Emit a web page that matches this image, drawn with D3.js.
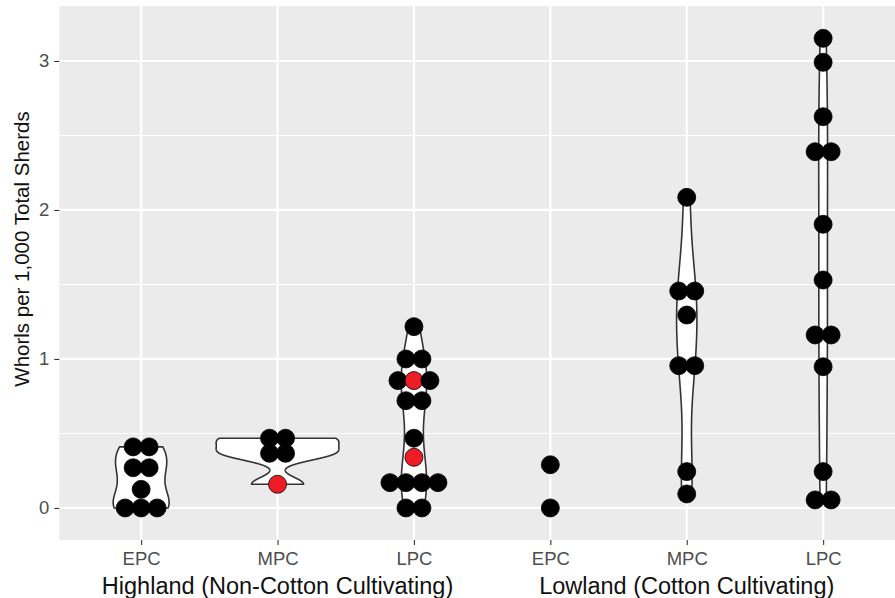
<!DOCTYPE html>
<html>
<head>
<meta charset="utf-8">
<script src="https://cdn.jsdelivr.net/npm/d3@7"></script>
<style>
  body { margin: 0; background: #fff; }
  text { font-family: "Liberation Sans", Arial, sans-serif; }
</style>
</head>
<body>
<div id="chart-area"></div>
<script>
// data (dot positions = binned values)
const regions = ["Highland (Non-Cotton Cultivating)", "Lowland (Cotton Cultivating)"];
const periods = ["EPC", "MPC", "LPC"];

const highlandEPC = [0.41, 0.41, 0.27, 0.27, 0.125, 0, 0, 0];
const highlandMPC = [0.468, 0.468, 0.367, 0.367];
const highlandLPC = [1.217, 1.0, 1.0, 0.855, 0.855, 0.72, 0.72, 0.468, 0.17, 0.17, 0.17, 0.17, 0, 0];
const lowlandEPC = [0.29, 0];
const lowlandMPC = [2.085, 1.456, 1.456, 1.295, 0.955, 0.955, 0.244, 0.094];
const lowlandLPC = [3.152, 2.991, 2.626, 2.391, 2.391, 1.904, 1.53, 1.161, 1.161, 0.948, 0.244, 0.054, 0.054];

// highlighted (red) sites
const highlandMPCRed = [0.159];
const highlandLPCRed = [0.855, 0.34];

const yTicks = [0, 1, 2, 3];
const yMinor = [0.5, 1.5, 2.5];

const groups = [
  { region: 0, period: "EPC", black: highlandEPC, red: [] },
  { region: 0, period: "MPC", black: highlandMPC, red: highlandMPCRed },
  { region: 0, period: "LPC", black: highlandLPC, red: highlandLPCRed },
  { region: 1, period: "EPC", black: lowlandEPC, red: [] },
  { region: 1, period: "MPC", black: lowlandMPC, red: [] },
  { region: 1, period: "LPC", black: lowlandLPC, red: [] }
];
groups.forEach(g => { g.key = g.region + "-" + g.period; g.all = g.black.concat(g.red); });

// layout
const canvas = { width: 895, height: 598 };
const panel = { left: 59.3, top: 6, bottom: 540 };
const step = 136.4;
const dotR = 9, dotStep = 16;

const svg = d3.select("#chart-area").append("svg")
  .attr("width", canvas.width).attr("height", canvas.height);

const x = d3.scalePoint().domain(groups.map(g => g.key))
  .range([panel.left, panel.left + 6.2 * step]).padding(0.6);
const y = d3.scaleLinear().domain([-0.215, 3.369]).range([panel.bottom, panel.top]);

// panel + grid
svg.append("rect").attr("x", panel.left).attr("y", panel.top)
  .attr("width", canvas.width - panel.left).attr("height", panel.bottom - panel.top)
  .attr("fill", "#ebebeb");

svg.selectAll(".minor").data(yMinor).enter().append("line")
  .attr("x1", panel.left).attr("x2", canvas.width)
  .attr("y1", d => y(d)).attr("y2", d => y(d))
  .attr("stroke", "#fff").attr("stroke-width", 1.1);
svg.selectAll(".major").data(yTicks).enter().append("line")
  .attr("x1", panel.left).attr("x2", canvas.width)
  .attr("y1", d => y(d)).attr("y2", d => y(d))
  .attr("stroke", "#fff").attr("stroke-width", 2.2);
svg.selectAll(".vgrid").data(groups).enter().append("line")
  .attr("x1", d => x(d.key)).attr("x2", d => x(d.key))
  .attr("y1", panel.top).attr("y2", panel.bottom)
  .attr("stroke", "#fff").attr("stroke-width", 2.2);

// violins: gaussian kde, bw.nrd0, trimmed, scale = "area"
function bwNrd0(v) {
  const s = v.slice().sort(d3.ascending);
  const hi = d3.deviation(s);
  const iqr = d3.quantileSorted(s, 0.75) - d3.quantileSorted(s, 0.25);
  let lo = Math.min(hi, iqr / 1.34);
  if (!lo) lo = hi || Math.abs(s[0]) || 1;
  return 0.9 * lo * Math.pow(s.length, -0.2);
}
function kde(v) {
  const bw = bwNrd0(v), lo = d3.min(v), hi = d3.max(v), n = 512;
  return d3.range(n).map(i => {
    const t = lo + (hi - lo) * i / (n - 1);
    const dens = d3.sum(v, d => Math.exp(-0.5 * ((t - d) / bw) ** 2)) / (v.length * bw * Math.sqrt(2 * Math.PI));
    return { v: t, d: dens };
  });
}
const violinGroups = groups.filter(g => g.all.length >= 3);
violinGroups.forEach(g => g.dens = kde(g.all));
const maxDens = d3.max(violinGroups, g => d3.max(g.dens, d => d.d));
const w = d3.scaleLinear().domain([0, maxDens]).range([0, 0.45 * step]);

svg.selectAll(".violin").data(violinGroups).enter().append("path")
  .attr("d", g => d3.area()
    .y(d => y(d.v))
    .x0(d => x(g.key) - w(d.d))
    .x1(d => x(g.key) + w(d.d))(g.dens))
  .attr("fill", "#fff").attr("stroke", "#333").attr("stroke-width", 1.6);

// dots: stacked, centered
const dots = [];
groups.forEach(g => {
  const rows = d3.groups(g.black.map(v => ({ v, red: false })).concat(g.red.map(v => ({ v, red: true }))), d => d.v);
  rows.forEach(([v, pts]) => {
    const blacks = pts.filter(p => !p.red), reds = pts.filter(p => p.red);
    const row = blacks.slice();
    row.splice(Math.floor(blacks.length / 2), 0, ...reds);
    row.forEach((p, i) => dots.push({ key: g.key, v, red: p.red, off: (i - (row.length - 1) / 2) * dotStep }));
  });
});
svg.selectAll(".dot").data(dots).enter().append("circle")
  .attr("cx", d => x(d.key) + d.off).attr("cy", d => y(d.v)).attr("r", dotR)
  .attr("fill", d => d.red ? "#ee1c25" : "#000").attr("stroke", "#000").attr("stroke-width", 0.8);

// axes
const yAxis = svg.append("g").attr("transform", "translate(" + panel.left + ",0)")
  .call(d3.axisLeft(y).tickValues(yTicks).tickSize(5).tickPadding(5).tickFormat(d3.format("d")));
const xAxis = svg.append("g").attr("transform", "translate(0," + panel.bottom + ")")
  .call(d3.axisBottom(x).tickSize(5).tickPadding(7).tickFormat(k => groups.find(g => g.key === k).period));
[xAxis, yAxis].forEach(a => {
  a.select(".domain").remove();
  a.selectAll(".tick line").attr("stroke", "#333").attr("stroke-width", 1.1);
  a.selectAll(".tick text").attr("fill", "#4d4d4d").attr("font-size", 18.5)
    .attr("font-family", "Liberation Sans, Arial, sans-serif");
});

// titles
svg.selectAll(".region").data(regions).enter().append("text")
  .attr("x", (d, i) => x(i + "-MPC")).attr("y", 593.5)
  .attr("text-anchor", "middle").attr("font-size", 23.5).attr("fill", "#111")
  .text(d => d);

svg.append("text")
  .attr("transform", "translate(29,249) rotate(-90)")
  .attr("text-anchor", "middle").attr("font-size", 20.5).attr("fill", "#111")
  .text("Whorls per 1,000 Total Sherds");
</script>
</body>
</html>
